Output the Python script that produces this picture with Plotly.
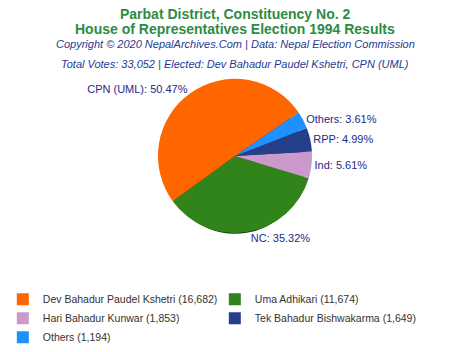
import plotly.graph_objects as go

parties = ["CPN (UML)", "NC", "Ind", "RPP", "Others"]
candidates = ["Dev Bahadur Paudel Kshetri", "Uma Adhikari", "Hari Bahadur Kunwar",
              "Tek Bahadur Bishwakarma", "Others"]
votes = [16682, 11674, 1853, 1649, 1194]
colors = ["#FF6600", "#31841A", "#CC99CC", "#263F8A", "#1E90FF"]
shadow_colors = ["#A01800", "#123D06", "#7A5A7A", "#14204A", "#0E4A8A"]

legend_names = [f"{c} ({v:,})" for c, v in zip(candidates, votes)]
total = sum(votes)

W, H = 470, 352
cx, cy, r = 235, 172, 85
rs = 78
sh = 8
dom_x = [(cx - r) / W, (cx + r) / W]
dom_y = [(H - cy - r) / H, (H - cy + r) / H]
dom_x_sh = [(cx - rs) / W, (cx + rs) / W]
dom_y_sh = [(H - cy - sh - rs) / H, (H - cy - sh + rs) / H]

fig = go.Figure()
fig.add_trace(go.Pie(
    labels=["shadow " + p for p in parties], values=votes, sort=False,
    direction="counterclockwise", rotation=234,
    domain=dict(x=dom_x_sh, y=dom_y_sh),
    marker=dict(colors=shadow_colors, line=dict(width=0)),
    textinfo="none", hoverinfo="skip", showlegend=False,
))
fig.add_trace(go.Pie(
    labels=legend_names, values=votes, text=parties, sort=False,
    direction="counterclockwise", rotation=234,
    domain=dict(x=dom_x, y=dom_y),
    marker=dict(colors=colors, line=dict(width=0)),
    texttemplate="%{text}: %{percent:.2%}", textposition="outside",
    outsidetextfont=dict(family="Liberation Sans, Arial", size=11, color="#27278A"),
    showlegend=True,
))

title_font = dict(family="Liberation Sans, Arial", size=14, color="#2E8B45")
sub_font = dict(family="Liberation Sans, Arial", size=11, color="#1F3A93")
anns = [
    dict(text="<b>Parbat District, Constituency No. 2</b>", y=16, font=title_font),
    dict(text="<b>House of Representatives Election 1994 Results</b>", y=32, font=title_font),
    dict(text="<i>Copyright © 2020 NepalArchives.Com | Data: Nepal Election Commission</i>", y=48, font=sub_font),
    dict(text=f"<i>Total Votes: {total:,} | Elected: Dev Bahadur Paudel Kshetri, CPN (UML)</i>", y=71, font=sub_font),
]
for a in anns:
    fig.add_annotation(text=a["text"], x=0.5, xref="paper", y=1 - a["y"] / H, yref="paper",
                       xanchor="center", yanchor="middle", showarrow=False, font=a["font"])

fig.update_layout(
    width=W, height=H, margin=dict(l=0, r=0, t=0, b=0),
    paper_bgcolor="white", plot_bgcolor="white",
    legend=dict(orientation="h", x=0.006, y=0.107, xanchor="left", yanchor="top",
                entrywidth=167, entrywidthmode="pixels", traceorder="normal",
                font=dict(family="Liberation Sans, Arial", size=10.5, color="#333333"),
                itemclick=False, tracegroupgap=0),
)
fig.write_html("out.html")
